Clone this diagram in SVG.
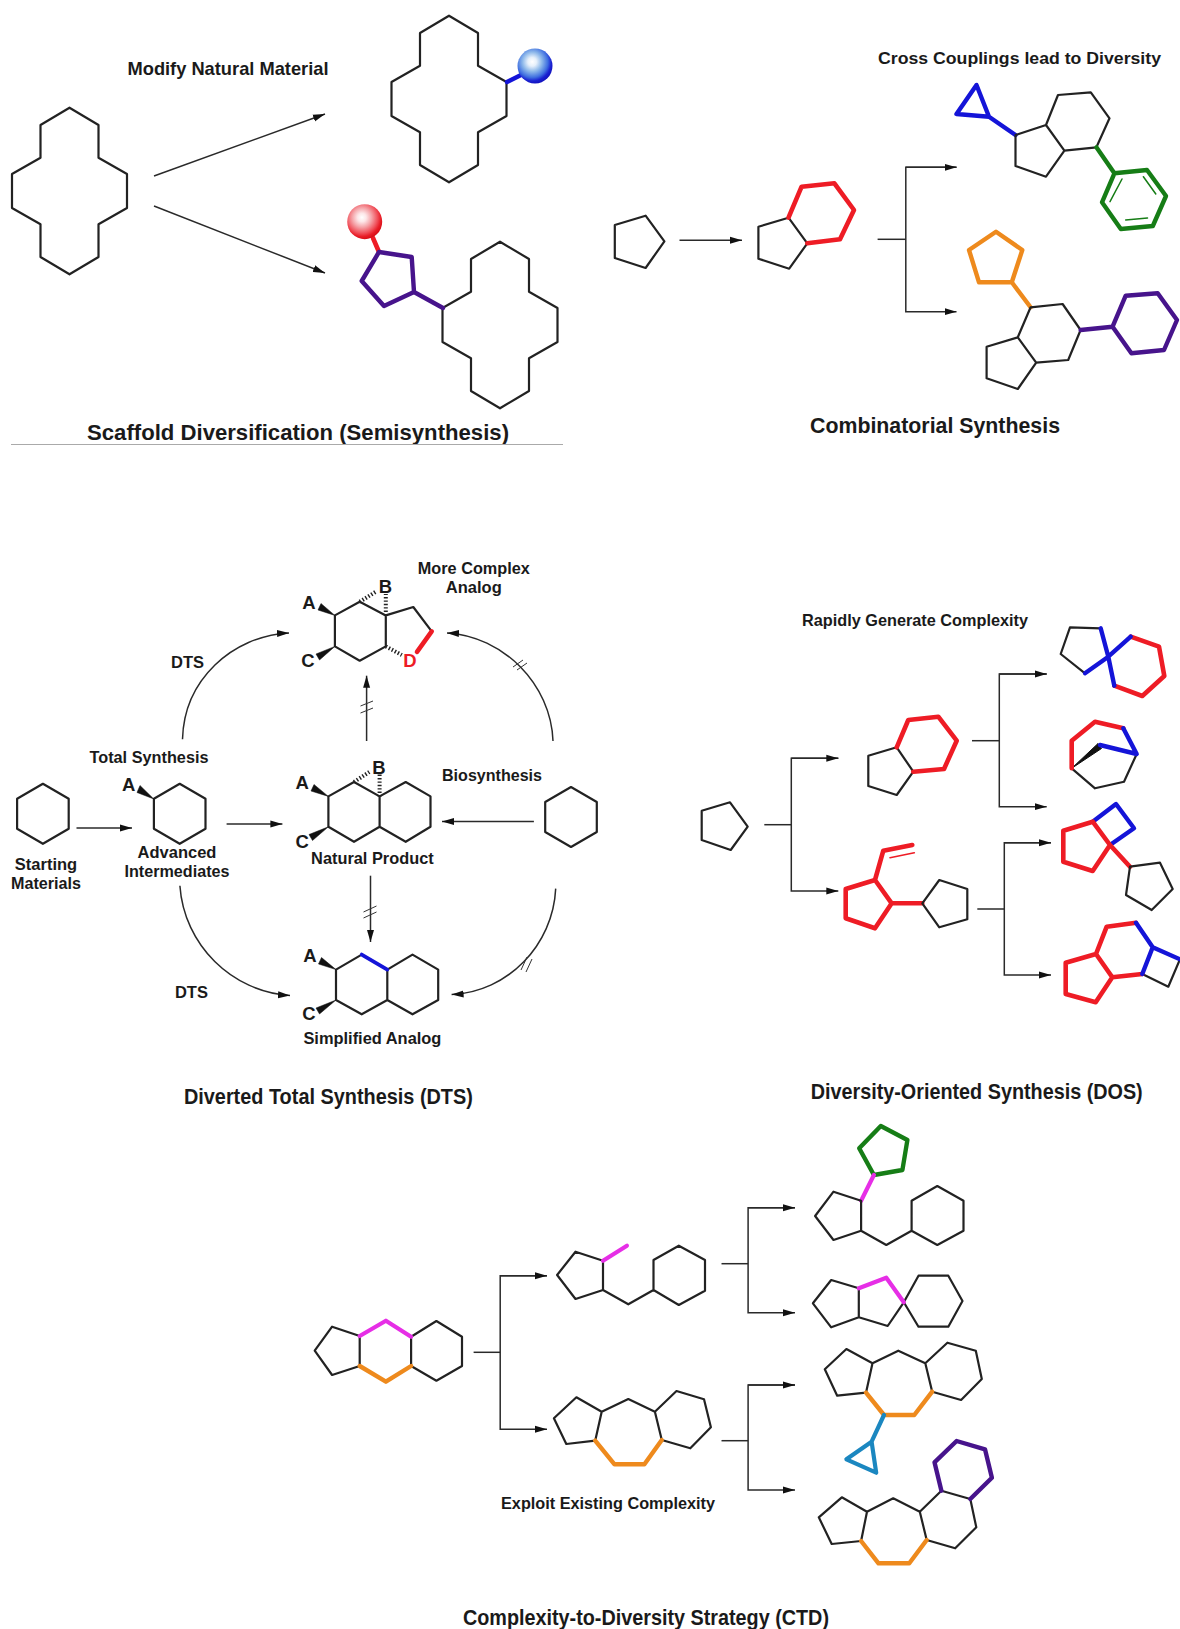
<svg xmlns="http://www.w3.org/2000/svg" width="1180" height="1629" viewBox="0 0 1180 1629">
<style>
text{font-family:"Liberation Sans",Arial,sans-serif;font-weight:700;fill:#1a1a1a;text-anchor:middle}
.l{font-size:16.5px}
.at{font-size:18.5px}
.t{font-size:22px}
.s{font-size:18.5px}
.b,.k,.r,.bl,.g,.o,.p,.m,.c{fill:none;stroke-linejoin:round;stroke-linecap:round}
.b{stroke:#222;stroke-width:2.2}
.k{stroke:#222;stroke-width:2.2}
.r{stroke:#ee1c25;stroke-width:4.6}
.bl{stroke:#1414d8;stroke-width:4.4}
.g{stroke:#167d16;stroke-width:4.4}
.o{stroke:#ee8a1d;stroke-width:4.4}
.p{stroke:#47148c;stroke-width:4.4}
.m{stroke:#e62ee6;stroke-width:4.2}
.c{stroke:#1b87c0;stroke-width:4.2}
.a{fill:none;stroke:#2a2a2a;stroke-width:1.5}
.h{fill:none;stroke:#222;stroke-width:4;stroke-dasharray:1.4 2}
.w{fill:#111;stroke:#111;stroke-width:.5;stroke-linejoin:round}
.x{fill:none;stroke:#333;stroke-width:1}
</style>
<defs>
<marker id="ah" markerUnits="userSpaceOnUse" markerWidth="13" markerHeight="8" refX="12" refY="4" orient="auto"><path d="M0 .5L12 4L0 7.5z" fill="#111"/></marker>
<radialGradient id="gb" cx=".42" cy=".38" r=".62"><stop offset="0" stop-color="#fff"/><stop offset=".2" stop-color="#e6f0fb"/><stop offset=".45" stop-color="#8db8ea"/><stop offset=".72" stop-color="#3f6fe0"/><stop offset=".88" stop-color="#1a22d2"/><stop offset="1" stop-color="#1414c0"/></radialGradient>
<radialGradient id="gr" cx=".42" cy=".38" r=".62"><stop offset="0" stop-color="#fff"/><stop offset=".2" stop-color="#fde6e8"/><stop offset=".45" stop-color="#f5a3a8"/><stop offset=".72" stop-color="#f0505a"/><stop offset=".88" stop-color="#e81c26"/><stop offset="1" stop-color="#d81018"/></radialGradient>
<path id="macro" d="M0-83.3L29-66V-33.3L57.5-17V17L29 33.3V66L0 83.3L-29 66V33.3L-57.5 17V-17L-29-33.3V-66z"/>
<path id="hex" d="M0-30L25.8-15V15L0 30L-25.8 15V-15z"/>
</defs>

<g id="connectors">
<path class="a" marker-end="url(#ah)" d="M154 176L325 114"/>
<path class="a" marker-end="url(#ah)" d="M154 206L325 273"/>
<path class="a" marker-end="url(#ah)" d="M679.5 240.3H742"/>
<path class="a" d="M877.6 239.3H905.8"/>
<path class="a" marker-end="url(#ah)" d="M956.5 167.3H905.8V311.7H956.5"/>
<path class="a" marker-end="url(#ah)" d="M905.8 167.3H956.5"/>

<path class="a" marker-end="url(#ah)" d="M182.5 739.3C184 680 232 636 289 632.9"/>
<path class="a" marker-end="url(#ah)" d="M553 741C551 684 503 636 447 632.9"/>
<path class="a" marker-end="url(#ah)" d="M366.6 741V675.7"/>
<path class="a" marker-end="url(#ah)" d="M76.5 827.9H132"/>
<path class="a" marker-end="url(#ah)" d="M226.6 824H282.4"/>
<path class="a" marker-end="url(#ah)" d="M533.9 821.4H442"/>
<path class="a" marker-end="url(#ah)" d="M370.5 875.7V942"/>
<path class="a" marker-end="url(#ah)" d="M179.9 885.7C184 945 232 992 290 995.4"/>
<path class="a" marker-end="url(#ah)" d="M555.7 888.6C553 945 508 992 451.6 994.6"/>
<path class="x" d="M360.5 706L373 701M360.5 713L373 708"/>
<path class="x" d="M363.5 912L376.5 906M363.5 918L376.5 912"/>
<path class="x" d="M513 667L523 660M517 670L527 663"/>
<path class="x" d="M521 970L527 957M526 972L532 959"/>

<path class="a" d="M764.3 824.7H791.3"/>
<path class="a" marker-end="url(#ah)" d="M838.3 758.3H791.3V891H838.3"/>
<path class="a" marker-end="url(#ah)" d="M791.3 758.3H838.3"/>
<path class="a" d="M972 740.7H999.3"/>
<path class="a" marker-end="url(#ah)" d="M1046.7 674H999.3V806.7H1046.7"/>
<path class="a" marker-end="url(#ah)" d="M999.3 674H1046.7"/>
<path class="a" d="M977.3 909H1004.3"/>
<path class="a" marker-end="url(#ah)" d="M1051 842.7H1004.3V975H1051"/>
<path class="a" marker-end="url(#ah)" d="M1004.3 842.7H1051"/>

<path class="a" d="M473.6 1352.3H500.2"/>
<path class="a" marker-end="url(#ah)" d="M547 1275.7H500.2V1429.3H547"/>
<path class="a" marker-end="url(#ah)" d="M500.2 1275.7H547"/>
<path class="a" d="M721.5 1263.7H748.1"/>
<path class="a" marker-end="url(#ah)" d="M795 1207.7H748.1V1312.7H795"/>
<path class="a" marker-end="url(#ah)" d="M748.1 1207.7H795"/>
<path class="a" d="M721.5 1440.7H748.1"/>
<path class="a" marker-end="url(#ah)" d="M795 1385H748.1V1490H795"/>
<path class="a" marker-end="url(#ah)" d="M748.1 1385H795"/>
</g>

<g id="scaffold">
<text class="s" x="228" y="75" textLength="201" lengthAdjust="spacingAndGlyphs">Modify Natural Material</text>
<text class="t" x="298" y="439.5" textLength="422" lengthAdjust="spacingAndGlyphs">Scaffold Diversification (Semisynthesis)</text>
<path d="M11 444.5H563" fill="none" stroke="#aaa" stroke-width="1"/>
</g>
<g id="macro-start"><use href="#macro" class="b" x="69.5" y="191"/></g>
<g id="macro-blue"><use href="#macro" class="b" x="449" y="99"/><path class="bl" d="M507 82L521 75"/><ellipse cx="535" cy="66" rx="17.5" ry="17.5" fill="url(#gb)"/></g>
<g id="macro-red">
<use href="#macro" class="b" x="500" y="325"/>
<path class="r" d="M373 238L379 252"/>
<ellipse cx="364.7" cy="221.7" rx="17.5" ry="17.5" fill="url(#gr)"/>
<path class="p" d="M379 252L411.7 257L414 292L384 306L361.7 281zM414 292L443 308"/>
</g>

<g id="comb-title">
<text class="l" x="1019.5" y="64" textLength="283" lengthAdjust="spacingAndGlyphs">Cross Couplings lead to Diversity</text>
<text class="t" x="935" y="433" textLength="250" lengthAdjust="spacingAndGlyphs">Combinatorial Synthesis</text>
</g>
<g id="comb-pent"><path class="k" d="M645.6 215.7L664.4 241.3L645.6 268L614.8 258V225z"/></g>
<g id="comb-mid">
<path class="k" d="M788.5 217.7L758.4 226.7V258.7L789.2 268.7L807.3 243.3z"/>
<path class="r" d="M788.5 217.7L801.6 186.7L834.4 183.3L854 210L840 239.3L807.3 243.3"/>
</g>
<g id="comb-top">
<path class="bl" d="M976.5 85L956.5 114L989 116.7zM989 116.7L1015.5 135"/>
<path class="k" d="M1015.5 135L1046 125L1064.4 150.7L1046 176.7L1015.5 166zM1046 125L1058 95L1090.8 92.3L1109.5 118.3L1096.4 147.3L1064.4 150.7"/>
<path class="g" d="M1096.4 147.3L1114.4 173.3L1147 170L1166 196L1152.8 226L1120.8 229L1102 202.3L1114.4 173.3"/>
<path class="g" style="stroke-width:1.5" d="M1122 179L1110 201.7M1143.4 176.7L1155.8 194M1125.7 220L1147.5 218"/>
</g>
<g id="comb-bottom">
<path class="o" d="M996 231.7L1022.3 250L1011.8 282.3H979L969 250zM1011.8 282.3L1030.6 307.3"/>
<path class="k" d="M1030.6 307.3L1062.6 304L1080.6 330L1068.2 360L1036.2 362.7L1017.8 337.3zM1017.8 337.3L986.6 346.7V378.3L1017.8 389L1036.2 362.7"/>
<path class="p" d="M1080.6 330L1112.6 326.7M1112.6 326.7L1125.7 295.7L1157.7 293.3L1177 320L1164 350L1131.4 353.3z"/>
</g>

<g id="dts-complex">
<path class="k" d="M334.9 615.4L359.7 601.8L385.8 615.4V646.4L359.7 660.7L334.9 646.4zM385.8 615.4L413.3 607L431.7 631.4"/>
<path class="r" d="M431.7 631.4L417 651.8"/>
<path class="w" d="M334.9 615.4L318 610L321 603.5z"/>
<path class="w" d="M334.9 646.4L319.5 660L316 654z"/>
<path class="h" d="M385.8 615.4V594M359.7 601.8L377 591M385.8 646.4L401.8 655"/>
<text class="at" x="309" y="609">A</text><text class="at" x="308" y="667">C</text><text class="at" x="385.4" y="593">B</text>
<text class="at" x="410" y="667" style="fill:#ee1c25">D</text>
<text class="l" x="473.8" y="574" textLength="112" lengthAdjust="spacingAndGlyphs">More Complex</text>
<text class="l" x="473.8" y="593">Analog</text>
</g>
<g id="dts-start">
<use href="#hex" class="k" x="42.9" y="813.8"/>
<text class="l" x="46" y="870">Starting</text><text class="l" x="46" y="889" textLength="70" lengthAdjust="spacingAndGlyphs">Materials</text>
</g>
<g id="dts-intermediate">
<use href="#hex" class="k" x="179.7" y="813.8"/>
<path class="w" d="M153.8 799L137 792.5L140 785.5z"/>
<text class="at" x="128.6" y="791">A</text>
<text class="l" x="177" y="858">Advanced</text><text class="l" x="177" y="876.5" textLength="105" lengthAdjust="spacingAndGlyphs">Intermediates</text>
<text class="l" x="149" y="763" textLength="119" lengthAdjust="spacingAndGlyphs">Total Synthesis</text>
<text class="l" x="187.5" y="667.5">DTS</text>
<text class="l" x="191.4" y="998">DTS</text>
</g>
<g id="dts-natural">
<path class="k" d="M328.4 796.4L354 782L379.6 796.4V826.8L354 841.8L328.4 826.8zM379.6 796.4L405.7 782L430.5 796.4V826.8L405.7 841.8L379.6 826.8"/>
<path class="w" d="M328.4 796.4L311 791L314 784.5z"/>
<path class="w" d="M328.4 826.8L312.5 840.5L309 834.5z"/>
<path class="h" d="M379.6 796.4V774M354 782L369.3 772"/>
<text class="at" x="302.3" y="789">A</text><text class="at" x="302.3" y="847.5">C</text><text class="at" x="378.9" y="773.5">B</text>
<text class="l" x="372.4" y="864" textLength="122.6" lengthAdjust="spacingAndGlyphs">Natural Product</text>
</g>
<g id="dts-bio">
<use href="#hex" class="k" x="571" y="817"/>
<text class="l" x="492" y="780.5" textLength="100" lengthAdjust="spacingAndGlyphs">Biosynthesis</text>
</g>
<g id="dts-simple">
<path class="k" d="M361.7 954.6L336 969.6V1000L361.7 1014.3L387.3 1000V969.6M387.3 969.6L412.5 954.6L438.2 969.6V1000L412.5 1014.3L387.3 1000"/>
<path class="bl" style="stroke-width:3.8" d="M361.7 954.6L387.3 969.6"/>
<path class="w" d="M336 969.6L318.5 964L321.5 957.5z"/>
<path class="w" d="M336 1000L319.5 1014L316 1008z"/>
<text class="at" x="310" y="962">A</text><text class="at" x="309" y="1020">C</text>
<text class="l" x="372.4" y="1043.5" textLength="138" lengthAdjust="spacingAndGlyphs">Simplified Analog</text>
<text class="t" x="328.4" y="1103.5" textLength="289" lengthAdjust="spacingAndGlyphs">Diverted Total Synthesis (DTS)</text>
</g>

<g id="dos-start"><path class="k" d="M730 802.3L747.7 826.7L730.7 850L701.7 840V810.7z"/>
<text class="l" x="915" y="625.5" textLength="226" lengthAdjust="spacingAndGlyphs">Rapidly Generate Complexity</text>
<text class="t" x="976.7" y="1099" textLength="332" lengthAdjust="spacingAndGlyphs">Diversity-Oriented Synthesis (DOS)</text>
</g>
<g id="dos-mid-top">
<path class="k" d="M896.7 747.3L868.3 755.7V786L896.7 795L913.3 771.7z"/>
<path class="r" d="M896.7 747.3L908.3 720L938.3 716.7L956.7 740.7L944 769L913.3 771.7"/>
</g>
<g id="dos-mid-bottom">
<path class="r" d="M875 880L891.7 903.3L875 928.3L845.7 918.3V889zM875 880L883.3 850.7L912.3 845M891.7 903.3H922.3"/>
<path class="r" style="stroke-width:1.6" d="M890 857.7L914.3 852.7"/>
<path class="k" d="M922.3 903.3L939.3 880L967.3 889V919.3L939.3 927.3z"/>
</g>
<g id="dos-spiro">
<path class="k" d="M1100.7 628.3L1070 627.3L1060.7 654L1085 673.3"/>
<path class="r" d="M1130.7 636.7L1159 646.7L1164.3 676L1142.3 696L1114.3 685.7"/>
<path class="bl" d="M1100.7 628.3L1108.3 656.7L1085 673.3M1130.7 636.7L1108.3 656.7L1114.3 685.7"/>
</g>
<g id="dos-bridged">
<path class="k" d="M1136.7 754L1124 781.7L1095 788.3L1071.7 768.3"/>
<path d="M1071.7 768.3L1098 743.5L1101.5 748.5z" fill="#111" stroke="#111"/>
<path class="r" d="M1071.7 768.3V740.7L1095 721.7L1123.3 728.3"/>
<path class="bl" d="M1123.3 728.3L1136.7 754L1100 745"/>
</g>
<g id="dos-fused">
<path class="bl" d="M1092.7 821.7L1116 804L1134 828.3L1110 845"/>
<path class="r" d="M1092.7 821.7L1110 845L1092.7 871L1063.3 861.7V830.7zM1110 845L1130 866.7"/>
<path class="k" d="M1130 866.7L1160 862.7L1172.7 889L1151.7 910L1126 895z"/>
</g>
<g id="dos-tetra">
<path class="k" d="M1180 959.3L1168.3 986.7L1142.3 974"/>
<path class="r" d="M1096 954L1112.3 977.3L1095.7 1002.3L1065.7 994V962.7zM1096 954L1106.7 926.7L1136 922.7M1112.3 977.3L1142.3 974"/>
<path class="bl" d="M1136 922.7L1152.7 947.3L1142.3 974M1152.7 947.3L1180 959.3"/>
</g>

<g id="ctd-start">
<path class="k" d="M359.7 1336V1366L332.1 1375L314.7 1350.7L332.1 1326.7zM411.1 1336.7V1366M411.1 1336.7L436.4 1321L462 1336.7V1366L436.4 1380.7L411.1 1366"/>
<path class="m" d="M359.7 1336L385.9 1320.7L411.1 1336.7"/>
<path class="o" d="M359.7 1366L385.9 1381.7L411.1 1366"/>
<text class="l" x="608" y="1509" textLength="214" lengthAdjust="spacingAndGlyphs">Exploit Existing Complexity</text>
<text class="t" x="646" y="1625" textLength="366" lengthAdjust="spacingAndGlyphs">Complexity-to-Diversity Strategy (CTD)</text>
</g>
<g id="ctd-mid-top">
<path class="k" d="M603 1260.7V1290L575.5 1299L557.1 1275L575.5 1251.7zM603 1290L628.3 1304.3L653.5 1290V1260L678.8 1245.7L705 1260V1290.7L678.8 1305L653.5 1290"/>
<path class="m" d="M603 1260.7L626.9 1245.7"/>
</g>
<g id="ctd-mid-bottom">
<path class="k" d="M601.7 1411.7L595.2 1440.7L566.3 1444L553.9 1418.3L576.4 1397.3zM601.7 1411.7L628.3 1399L654.9 1411.7L661.8 1440M654.9 1411.7L676.5 1391L704 1399.3L710.9 1427.3L690.3 1448.3L661.8 1440"/>
<path class="o" d="M661.8 1440L644.4 1464.3H614.5L595.2 1440.7"/>
</g>
<g id="ctd-r1">
<path class="g" d="M880.8 1126L907.4 1140L902.4 1170L873.9 1175L859.2 1148.3z"/>
<path class="m" d="M873.9 1175L861.1 1200.7"/>
<path class="k" d="M861.1 1200.7V1230.7L833.5 1240L815.1 1216L833.5 1191.7zM861.1 1230.7L886.3 1245L911.6 1230.7V1200.7L937.3 1186L963.5 1200.7V1230.7L937.3 1245L911.6 1230.7"/>
</g>
<g id="ctd-r2">
<path class="k" d="M858.8 1288.3V1317.3L831.2 1327.3L812.9 1303.3L831.2 1280zM858.8 1317.3L887.7 1326L903.8 1302.3L918.5 1275.7H948.3L962.5 1301L948.3 1326.7H918.5L903.8 1302.3"/>
<path class="m" d="M858.8 1288.3L886.3 1277.7L903.8 1302.3"/>
</g>
<g id="ctd-r3">
<path class="k" d="M872.5 1363.3L866 1392.7L837.2 1395.7L824.8 1369.3L846.4 1349zM872.5 1363.3L898.3 1350.7L925.3 1363.3L932.2 1391.7M925.3 1363.3L947.4 1342.7L975.8 1350.7L981.8 1379L961.1 1400L932.2 1391.7"/>
<path class="o" d="M932.2 1391.7L914.3 1415H884L866 1392.7"/>
<path class="c" d="M884 1415L871.6 1441.7L846.4 1459.3L876.2 1472.7L871.6 1441.7"/>
</g>
<g id="ctd-r4">
<path class="k" d="M867 1511.7L861.1 1541L831.7 1544L818.8 1517.3L841.8 1497.3zM867 1511.7L893.2 1498.3L919.8 1511.7L926.7 1540M919.8 1511.7L941.4 1490.7L970.3 1499L976.3 1527.3L955.2 1548.3L926.7 1540"/>
<path class="o" d="M926.7 1540L909.3 1563.3H878.5L861.1 1541"/>
<path class="p" d="M941.4 1490.7L934.5 1462.3L956.6 1441L985 1449.3L991.9 1477.7L970.3 1499"/>
</g>
</svg>
